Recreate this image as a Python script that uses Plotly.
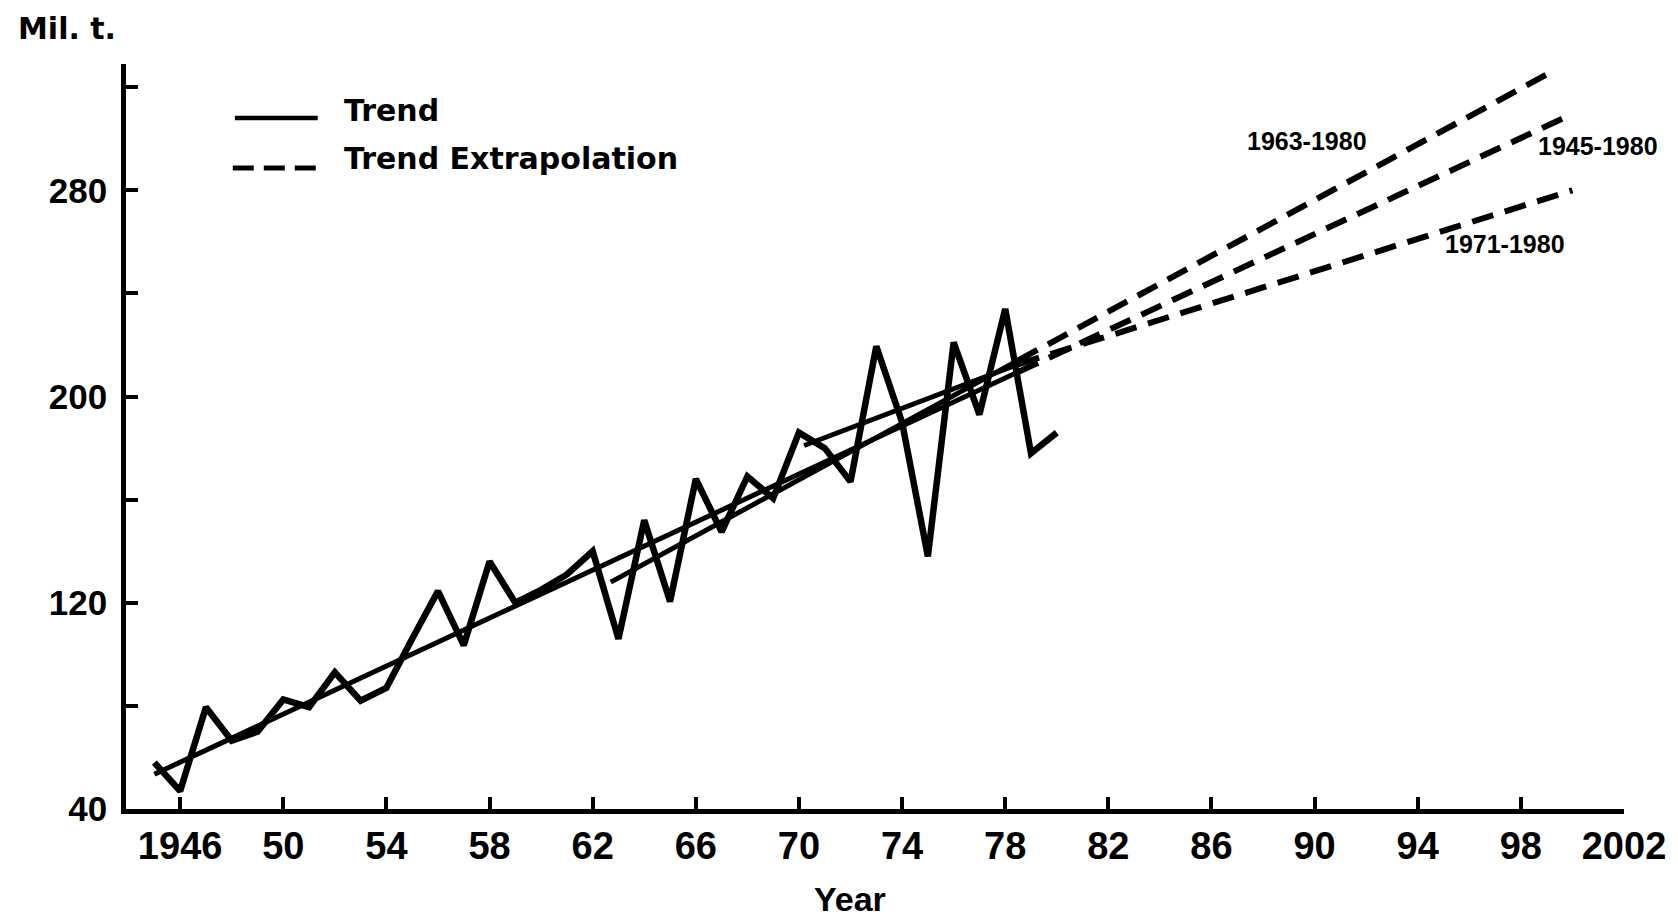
import plotly.graph_objects as go

# Annual production (Mil. t.)
years = list(range(1945, 1981))
production = [58, 47, 79.5, 66.5, 70, 82.5, 79.5, 93, 82, 87,
              106, 124.5, 103.5, 136, 120, 125, 131, 140, 106, 152,
              120.5, 168, 147.5, 169, 160.5, 186, 180, 167, 219.5, 190,
              138, 221, 193, 234, 178, 186]

# Fitted trends: [start, end of fit] and extrapolation end
trend_4580_years = [1945, 1978.5]
trend_4580_values = [53.5, 209.5]
extrap_4580_years = [1978.5, 2000]
extrap_4580_values = [209.5, 309.6]

trend_6380_years = [1962.7, 1978.5]
trend_6380_values = [128, 214]
extrap_6380_years = [1978.5, 1999.2]
extrap_6380_values = [214, 326]

trend_7180_years = [1970.2, 1978.5]
trend_7180_values = [181, 212.5]
extrap_7180_years = [1978.5, 2000]
extrap_7180_values = [212.5, 280]

x_ticks = [1946, 1950, 1954, 1958, 1962, 1966, 1970, 1974, 1978, 1982,
           1986, 1990, 1994, 1998, 2002]
x_tick_text = ["1946", "50", "54", "58", "62", "66", "70", "74", "78", "82",
               "86", "90", "94", "98", "2002"]
y_ticks = [40, 80, 120, 160, 200, 240, 280, 320]
y_tick_text = ["40", "", "120", "", "200", "", "280", ""]

# Period labels placed next to the extrapolations
period_labels = ["1963-1980", "1945-1980", "1971-1980"]
period_x = [1989.7, 2001.0, 1997.4]
period_y = [299.1, 297.0, 259.0]

INK = "#000000"
SANS = "Liberation Sans, Arial, sans-serif"
HEAVY = "DejaVu Sans, Liberation Sans, sans-serif"

fig = go.Figure()

solid_w = 5
dash_w = 6
dash_style = "22px,12px"

for xs, ys in [(trend_4580_years, trend_4580_values),
               (trend_6380_years, trend_6380_values),
               (trend_7180_years, trend_7180_values)]:
    fig.add_trace(go.Scatter(x=xs, y=ys, mode="lines",
                             line=dict(color=INK, width=solid_w),
                             showlegend=False, hoverinfo="skip"))

for xs, ys in [(extrap_4580_years, extrap_4580_values),
               (extrap_6380_years, extrap_6380_values),
               (extrap_7180_years, extrap_7180_values)]:
    fig.add_trace(go.Scatter(x=xs, y=ys, mode="lines",
                             line=dict(color=INK, width=dash_w, dash=dash_style),
                             showlegend=False, hoverinfo="skip", cliponaxis=False))

fig.add_trace(go.Scatter(x=years, y=production, mode="lines",
                         line=dict(color=INK, width=6.5),
                         showlegend=False))

annotations = []
for txt, xv, yv in zip(period_labels, period_x, period_y):
    annotations.append(dict(x=xv, y=yv, xref="x", yref="y", text=txt,
                            showarrow=False, xanchor="center", yanchor="middle",
                            font=dict(family=SANS, size=25, color=INK, weight="bold")))

# Key drawn as line samples with text beside them
annotations += [
    dict(x=0.144, y=0.937, xref="paper", yref="paper", text="Trend",
         showarrow=False, xanchor="left", yanchor="middle",
         font=dict(family=HEAVY, size=30, color=INK, weight="bold")),
    dict(x=0.144, y=0.8725, xref="paper", yref="paper", text="Trend Extrapolation",
         showarrow=False, xanchor="left", yanchor="middle",
         font=dict(family=HEAVY, size=30, color=INK, weight="bold")),
    dict(x=-0.0733, y=1.047, xref="paper", yref="paper", text="Mil. t.",
         showarrow=False, xanchor="left", yanchor="middle",
         font=dict(family=HEAVY, size=30, color=INK, weight="bold")),
    dict(x=0.4833, y=-0.1208, xref="paper", yref="paper", text="Year",
         showarrow=False, xanchor="center", yanchor="middle",
         font=dict(family=SANS, size=34, color=INK, weight="bold")),
]

shapes = [
    dict(type="line", xref="paper", yref="paper", x0=0.0727, x1=0.128,
         y0=0.9275, y1=0.9275, line=dict(color=INK, width=4.5)),
    dict(type="line", xref="paper", yref="paper", x0=0.0713, x1=0.1267,
         y0=0.8604, y1=0.8604, line=dict(color=INK, width=5, dash="21px,10px")),
]

fig.update_layout(
    width=1678, height=924,
    margin=dict(l=126, r=52, t=64, b=115),
    paper_bgcolor="white", plot_bgcolor="white",
    annotations=annotations, shapes=shapes,
    xaxis=dict(range=[1943.9, 2002], showline=True, linewidth=4.5, linecolor=INK,
               ticks="inside", ticklen=12, tickwidth=4, tickcolor=INK,
               tickvals=x_ticks, ticktext=x_tick_text,
               tickfont=dict(family=SANS, size=38, color=INK, weight="bold"),
               showgrid=False, zeroline=False, fixedrange=True),
    yaxis=dict(range=[40, 329], showline=True, linewidth=4.5, linecolor=INK,
               ticks="inside", ticklen=12, tickwidth=4, tickcolor=INK,
               tickvals=y_ticks, ticktext=y_tick_text, ticklabelstandoff=7,
               tickfont=dict(family=SANS, size=35, color=INK, weight="bold"),
               showgrid=False, zeroline=False, fixedrange=True),
)

fig.write_html("out.html")
